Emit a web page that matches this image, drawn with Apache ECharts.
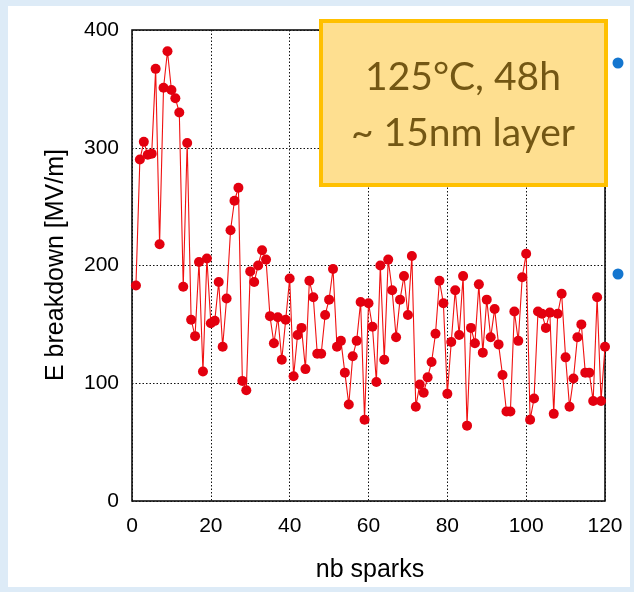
<!DOCTYPE html>
<html>
<head>
<meta charset="utf-8">
<script src="https://cdn.jsdelivr.net/npm/echarts@6/dist/echarts.min.js"></script>
<style>
html,body{margin:0;padding:0;background:#DDEBF7;}
#chart{width:634px;height:592px;}
</style>
</head>
<body>
<div id="chart"></div>
<script>
// spark number (x) and breakdown field (y, MV/m)
const sparks = [
  1,2,3,4,5,6,7,8,9,10,11,12,13,14,15,16,17,18,19,20,
  21,22,23,24,25,26,27,28,29,30,31,32,33,34,35,36,37,38,39,40,
  41,42,43,44,45,46,47,48,49,50,51,52,53,54,55,56,57,58,59,60,
  61,62,63,64,65,66,67,68,69,70,71,72,73,74,75,76,77,78,79,80,
  81,82,83,84,85,86,87,88,89,90,91,92,93,94,95,96,97,98,99,100,
  101,102,103,104,105,106,107,108,109,110,111,112,113,114,115,116,117,118,119,120
];
const eBreakdown = [
  183,290,305,294,295,367,218,351,382,349,
  342,330,182,304,154,140,203,110,206,151,
  153,186,131,172,230,255,266,102,94,195,
  186,200,213,205,157,134,156,120,154,189,
  106,141,147,112,187,173,125,125,158,171,
  197,131,136,109,82,123,136,169,69,168,
  148,101,200,120,205,179,139,171,191,158,
  208,80,99,92,105,118,142,187,168,91,
  135,179,141,191,64,147,134,184,126,171,
  139,163,133,107,76,76,161,136,190,210,
  69,87,161,159,147,160,74,159,176,122,
  80,104,139,150,109,109,85,173,85,131
];
const xTicks = [0, 20, 40, 60, 80, 100, 120];
const yTicks = [0, 100, 200, 300, 400];
const xTitle = 'nb sparks';
const yTitle = 'E breakdown [MV/m]';
const noteLines = ['125°C, 48h', '~ 15nm layer'];

const points = sparks.map((s, i) => [s, eBreakdown[i]]);

const chart = echarts.init(document.getElementById('chart'), null, {renderer: 'canvas'});
const labelFont = {fontFamily: 'Liberation Sans', fontSize: 21, color: '#000'};

chart.setOption({
  backgroundColor: '#DDEBF7',
  animation: false,
  grid: {
    left: 132, top: 30, width: 473, height: 471,
    show: true, backgroundColor: '#fff', borderColor: '#000', borderWidth: 1.5
  },
  xAxis: {
    type: 'value', min: xTicks[0], max: xTicks[xTicks.length - 1], interval: 20,
    axisLine: {show: false},
    axisTick: {show: false},
    splitLine: {show: true, lineStyle: {color: '#111', type: [1.5, 2], width: 1}},
    axisLabel: Object.assign({margin: 15}, labelFont)
  },
  yAxis: {
    type: 'value', min: yTicks[0], max: yTicks[yTicks.length - 1], interval: 100,
    axisLine: {show: false},
    axisTick: {show: false},
    splitLine: {show: true, lineStyle: {color: '#111', type: [1.5, 2], width: 1}},
    axisLabel: Object.assign({margin: 13, padding: [0, 0, 6, 0]}, labelFont)
  },
  series: [{
    type: 'line',
    data: points,
    symbol: 'circle',
    symbolSize: 10,
    lineStyle: {color: '#F01010', width: 1.1},
    itemStyle: {color: '#E3000F'},
    z: 5
  }],
  graphic: [
    {type: 'rect', z: -100, silent: true,
     shape: {x: 8, y: 6, width: 622, height: 581},
     style: {fill: '#fff'}},
    {type: 'text', silent: true, x: 370, y: 570,
     style: {text: xTitle, font: '25px "Liberation Sans"', fill: '#000',
             textAlign: 'center', textVerticalAlign: 'middle'}},
    {type: 'text', silent: true, x: 56, y: 265, rotation: Math.PI / 2,
     style: {text: yTitle, font: '25px "Liberation Sans"', fill: '#000',
             textAlign: 'center', textVerticalAlign: 'middle'}},
    {type: 'rect', z: 100, silent: true,
     shape: {x: 321, y: 21, width: 285, height: 164},
     style: {fill: '#FEDF90', stroke: '#FFC000', lineWidth: 4}},
    {type: 'text', z: 101, silent: true, x: 463, y: 77,
     style: {text: noteLines[0], font: '39px Lato', fill: '#735714',
             textAlign: 'center', textVerticalAlign: 'middle'}},
    {type: 'text', z: 101, silent: true, x: 463, y: 133,
     style: {text: noteLines[1], font: '39px Lato', fill: '#735714',
             textAlign: 'center', textVerticalAlign: 'middle'}},
    {type: 'circle', z: 101, silent: true, shape: {cx: 618, cy: 63, r: 5.5},
     style: {fill: '#1476CF'}},
    {type: 'circle', z: 101, silent: true, shape: {cx: 618, cy: 274, r: 5.5},
     style: {fill: '#1476CF'}}
  ]
});
</script>
</body>
</html>
